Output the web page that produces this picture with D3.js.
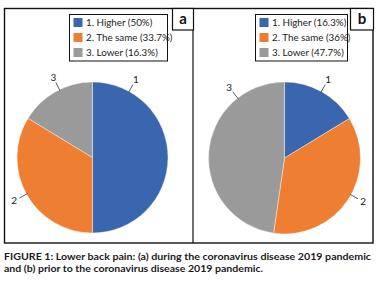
<!DOCTYPE html>
<html><head><meta charset="utf-8">
<script src="https://cdn.jsdelivr.net/npm/d3@7/dist/d3.min.js"></script>
<style>body{margin:0;background:#fff}svg{display:block}</style>
</head><body>
<svg id="c" width="384" height="282"></svg>
<script>
const categories = ["1. Higher", "2. The same", "3. Lower"];
const sliceLabels = ["1", "2", "3"];
const valuesA = [50, 33.7, 16.3];
const valuesB = [16.3, 36, 47.7];
const legendA = ["1. Higher (50%)", "2. The same (33.7%)", "3. Lower (16.3%)"];
const legendB = ["1. Higher (16.3%)", "2. The same (36%)", "3. Lower (47.7%)"];
const colors = ["#3A66AF", "#EE7E32", "#9A9A9A"];
const captionLines = [
  "FIGURE 1: Lower back pain: (a) during the coronavirus disease 2019 pandemic",
  "and (b) prior to the coronavirus disease 2019 pandemic."
];

const svg = d3.select("#c");
const font = "Lato, 'Open Sans', sans-serif";

// frame
svg.append("rect").attr("x",4.5).attr("y",8.5).attr("width",368.5).attr("height",234.5)
  .attr("fill","none").attr("stroke","#111").attr("stroke-width",1.4);
svg.append("line").attr("x1",193).attr("x2",193).attr("y1",8.5).attr("y2",243)
  .attr("stroke","#111").attr("stroke-width",1.2);

function panel(cfg){
  const g = svg.append("g");
  const pie = d3.pie().sort(null).value(d=>d)(cfg.values);
  const arc = d3.arc().innerRadius(0).outerRadius(cfg.r);
  const pg = g.append("g").attr("transform",`translate(${cfg.cx},${cfg.cy})`);
  pg.selectAll("path").data(pie).join("path")
    .attr("d",arc).attr("fill",(d,i)=>colors[i]).attr("stroke","#fff").attr("stroke-width",0.4);
  cfg.labelAngles.forEach((a,i)=>{
    const t = a*Math.PI/180;
    const p = r => [Math.sin(t)*r, -Math.cos(t)*r];
    const [x1,y1] = p(cfg.r-1), [x2,y2] = p(cfg.r+8);
    pg.append("line").attr("x1",x1).attr("y1",y1).attr("x2",x2).attr("y2",y2)
      .attr("stroke","#333").attr("stroke-width",0.8);
    const [lx,ly] = p(cfg.r+14);
    pg.append("text").attr("x",lx).attr("y",ly).attr("dy","0.35em")
      .attr("text-anchor","middle").attr("font-family",font).attr("font-size",10)
      .attr("fill","#222").text(sliceLabels[i]);
  });
  const lg = g.append("g");
  lg.append("rect").attr("x",cfg.lx+0.5).attr("y",14.5).attr("width",cfg.lw).attr("height",46.5)
    .attr("fill","#fff").attr("stroke","#111").attr("stroke-width",1);
  cfg.legend.forEach((t,i)=>{
    lg.append("rect").attr("x",cfg.lx+4.5).attr("y",18+i*15).attr("width",9).attr("height",9)
      .attr("fill",colors[i]);
    lg.append("text").attr("x",cfg.lx+17).attr("y",26+i*15)
      .attr("font-family",font).attr("font-size",9.8).attr("fill","#222").text(t);
  });
  g.append("rect").attr("x",cfg.bx+0.5).attr("y",8.5).attr("width",cfg.bw).attr("height",21.5)
    .attr("fill","#fff").attr("stroke","#111").attr("stroke-width",1.2);
  g.append("text").attr("x",cfg.bx+0.5+cfg.bw/2).attr("y",24).attr("text-anchor","middle")
    .attr("font-family",font).attr("font-weight","bold").attr("font-size",15).attr("fill","#111")
    .text(cfg.letter);
}

panel({values:valuesA, legend:legendA, cx:92.5, cy:157.5, r:75.5, labelAngles:[29,241,334],
  lx:69, lw:98, bx:172, bw:21, letter:"a"});
panel({values:valuesB, legend:legendB, cx:284.5, cy:158, r:76, labelAngles:[29,119,322],
  lx:255, lw:92, bx:350, bw:23, letter:"b"});

const cap = svg.append("g").attr("font-family",font).attr("font-weight","bold")
  .attr("font-size",9.5).attr("fill","#1a1a1a");
cap.append("text").attr("x",4).attr("y",260).attr("textLength",367)
  .attr("lengthAdjust","spacingAndGlyphs").text(captionLines[0]);
cap.append("text").attr("x",4).attr("y",272).attr("textLength",259)
  .attr("lengthAdjust","spacingAndGlyphs").text(captionLines[1]);
</script>
</body></html>
